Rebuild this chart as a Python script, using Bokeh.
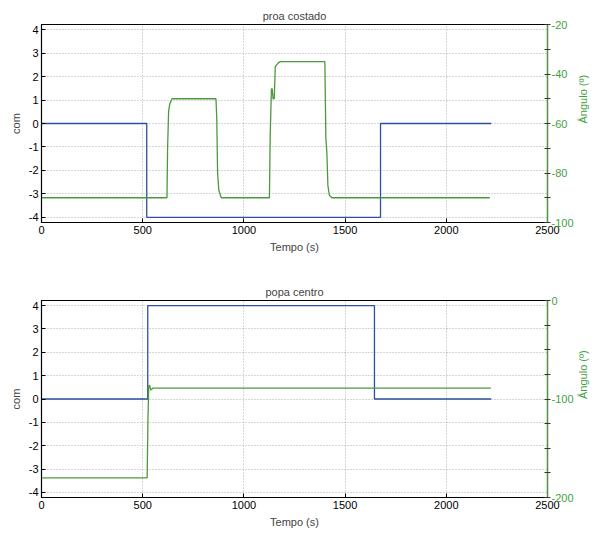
import math
from bokeh.plotting import figure
from bokeh.models import LinearAxis, Range1d, FixedTicker
from bokeh.layouts import column
from bokeh.embed import file_html
from bokeh.resources import INLINE

# ---------------- data ----------------
x_ticks = [0, 500, 1000, 1500, 2000, 2500]
com_ticks = [-4, -3, -2, -1, 0, 1, 2, 3, 4]

# top panel: "proa costado"
top_title = "proa costado"
top_com_t = [0, 520, 520, 1675, 1675, 2222]
top_com_v = [0, 0, -4, -4, 0, 0]
top_ang_t = [0, 620, 623, 628, 634, 645, 862, 866, 870, 876, 888,
             1126, 1130, 1136, 1140, 1144, 1150, 1155, 1170, 1180,
             1400, 1405, 1410, 1415, 1422, 1435, 2215]
top_ang_v = [-90, -90, -70, -55, -52, -50, -50, -58, -80, -87, -90,
             -90, -65, -46, -46, -50, -50, -37, -35.5, -35,
             -35, -66, -72, -85, -89, -90, -90]
top_ang_major = [-100, -80, -60, -40, -20]
top_ang_minor = [-90, -70, -50, -30]
top_ang_range = (-100, -20)

# bottom panel: "popa centro"
bot_title = "popa centro"
bot_com_t = [0, 525, 525, 1645, 1645, 2222]
bot_com_v = [0, 0, 4, 4, 0, 0]
bot_ang_t = [0, 522, 526, 530, 534, 540, 550, 2220]
bot_ang_v = [-180, -180, -120, -87, -86, -91, -89, -89]
bot_ang_major = [-200, -100, 0]
bot_ang_minor = [-175, -150, -125, -75, -50, -25]
bot_ang_range = (-200, 0)

BLUE = "#2c4f9f"
GREEN = "#4a9a3a"
GREEN_TXT = "#3f9f3f"
FONT = "Liberation Sans"


def plain_labels(ticks):
    return {t: ("%g" % t) for t in ticks}


def panel(title, ct, cv, at, av, amajor, aminor, arange, top_border, bottom_border):
    p = figure(width=597, height=267, output_backend="svg", toolbar_location=None,
               x_range=Range1d(0, 2500), y_range=Range1d(-4.22, 4.22),
               min_border_left=41, min_border_right=48,
               min_border_top=top_border, min_border_bottom=bottom_border,
               title=title)
    p.title.align = "center"
    p.title.text_font = FONT
    p.title.text_font_size = "11px"
    p.title.text_font_style = "normal"
    p.title.standoff = 6
    p.outline_line_color = "black"
    p.outline_line_width = 1.2

    p.extra_y_ranges = {"ang": Range1d(*arange)}

    xa = p.xaxis[0]
    xa.ticker = FixedTicker(ticks=x_ticks)
    xa.axis_label = "Tempo (s)"
    xa.major_label_overrides = plain_labels(x_ticks)
    ya = p.yaxis[0]
    ya.ticker = FixedTicker(ticks=com_ticks)
    ya.axis_label = "com"
    ya.major_label_overrides = plain_labels(com_ticks)
    for ax in (xa, ya):
        ax.major_tick_in = 4
        ax.major_tick_out = 0
        ax.minor_tick_in = 0
        ax.minor_tick_out = 0
        ax.axis_line_color = "black"
        ax.major_label_text_font = FONT
        ax.major_label_text_font_size = "11px"
        ax.major_label_text_color = "black"
        ax.axis_label_text_font = FONT
        ax.axis_label_text_font_size = "11px"
        ax.axis_label_text_font_style = "normal"
        ax.axis_label_standoff = 4
        ax.major_label_standoff = 3

    ra = LinearAxis(y_range_name="ang", axis_label="Ângulo (º)",
                    ticker=FixedTicker(ticks=amajor, minor_ticks=aminor))
    ra.major_label_overrides = plain_labels(amajor)
    ra.axis_label_orientation = math.pi / 2
    ra.axis_line_color = GREEN
    ra.axis_line_width = 1.2
    ra.major_tick_in = 3
    ra.major_tick_out = 3
    ra.minor_tick_in = 3
    ra.minor_tick_out = 3
    ra.major_tick_line_color = "#333333"
    ra.minor_tick_line_color = "#333333"
    ra.major_label_text_font = FONT
    ra.major_label_text_font_size = "11px"
    ra.major_label_text_color = GREEN_TXT
    ra.major_label_standoff = 1
    ra.axis_label_text_font = FONT
    ra.axis_label_text_font_size = "11px"
    ra.axis_label_text_font_style = "normal"
    ra.axis_label_text_color = GREEN_TXT
    ra.axis_label_standoff = 6
    p.add_layout(ra, "right")

    for g in p.grid:
        g.grid_line_color = "#8c8c8c"
        g.grid_line_dash = "1 2"
        g.grid_line_alpha = 0.7
    p.xgrid[0].ticker = FixedTicker(ticks=x_ticks)
    p.ygrid[0].ticker = FixedTicker(ticks=com_ticks)

    p.line(ct, cv, color=BLUE, line_width=1.3)
    p.line(at, av, color=GREEN, line_width=1.3, y_range_name="ang")
    return p


p1 = panel(top_title, top_com_t, top_com_v, top_ang_t, top_ang_v,
           top_ang_major, top_ang_minor, top_ang_range, 24, 45)
p2 = panel(bot_title, bot_com_t, bot_com_v, bot_ang_t, bot_ang_v,
           bot_ang_major, bot_ang_minor, bot_ang_range, 33, 37)

layout = column(p1, p2, spacing=0)
open("out.html", "w").write(file_html(layout, INLINE))
